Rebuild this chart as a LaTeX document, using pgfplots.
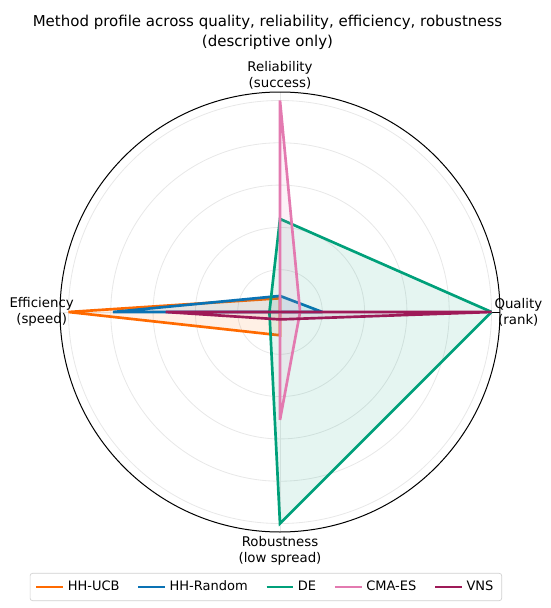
\documentclass[border=0pt]{standalone}
\usepackage{fontspec}
\setmainfont{DejaVu Sans}
\usepackage{pgfplots}
\pgfplotsset{compat=1.18}
\usepgfplotslibrary{polar}

\definecolor{cucb}{HTML}{FF6A00}
\definecolor{crand}{HTML}{0A72B4}
\definecolor{cde}{HTML}{00A07A}
\definecolor{ccma}{HTML}{E37AB0}
\definecolor{cvns}{HTML}{9E1A58}

\begin{document}
\begin{tikzpicture}
\begin{polaraxis}[
    name=ax,
    scale only axis, width=264pt, height=264pt,
    ymin=0, ymax=1.04,
    xtick={0,90,180,270}, xticklabels={},
    ytick={0.2,0.4,0.6,0.8,1.0}, yticklabels={},
    major tick length=0pt,
    grid=major, major grid style={black!9, line width=0.5pt},
    axis line style={black, line width=0.6pt},
    clip=false,
    legend columns=5,
    legend style={at={(0.468,-0.125)}, anchor=center,
                  font=\fontsize{7.8}{9}\selectfont,
                  draw=black!18, rounded corners=1.5pt,
                  inner xsep=3pt, inner ysep=2.5pt,
                  /tikz/every even column/.append style={column sep=8.5pt}},
    legend image code/.code={\draw[#1, fill=none, fill opacity=0] (0pt,0pt) -- (16pt,0pt);},
    every axis plot/.append style={line width=1.6pt, line join=miter},
]
% order: Quality (0), Reliability (90), Efficiency (180), Robustness (270)
\addplot[cucb, fill=cucb, fill opacity=0.1, draw opacity=1]
  coordinates {(0,0.0) (90,0.065) (180,1.0) (270,0.11) (360,0.0)};
\addlegendentry{HH-UCB}
\addplot[crand, fill=crand, fill opacity=0.1, draw opacity=1]
  coordinates {(0,0.2) (90,0.076) (180,0.79) (270,0.0) (360,0.2)};
\addlegendentry{HH-Random}
\addplot[cde, fill=cde, fill opacity=0.1, draw opacity=1]
  coordinates {(0,1.0) (90,0.44) (180,0.05) (270,1.0) (360,1.0)};
\addlegendentry{DE}
\addplot[ccma, fill=ccma, fill opacity=0.1, draw opacity=1]
  coordinates {(0,0.095) (90,1.0) (180,0.0) (270,0.51) (360,0.095)};
\addlegendentry{CMA-ES}
\addplot[cvns, fill=cvns, fill opacity=0.1, draw opacity=1]
  coordinates {(0,1.0) (90,0.0) (180,0.54) (270,0.035) (360,1.0)};
\addlegendentry{VNS}
\end{polaraxis}

\begin{scope}[every node/.style={align=center, font=\fontsize{8}{9.6}\selectfont}]
\node at ([xshift=143pt]ax.center) {Quality\\(rank)};
\node at ([yshift=142pt]ax.center) {Reliability\\(success)};
\node at ([xshift=-143pt]ax.center) {Efficiency\\(speed)};
\node at ([yshift=-143pt]ax.center) {Robustness\\(low spread)};
\node[font=\fontsize{9}{12}\selectfont] at ([xshift=-7.5pt,yshift=168pt]ax.center)
  {Method profile across quality, reliability, efficiency, robustness\\(descriptive only)};
\end{scope}

\path[use as bounding box] ([xshift=-168pt,yshift=-177.6pt]ax.center) rectangle ([xshift=162pt,yshift=187.2pt]ax.center);
\end{tikzpicture}
\end{document}
